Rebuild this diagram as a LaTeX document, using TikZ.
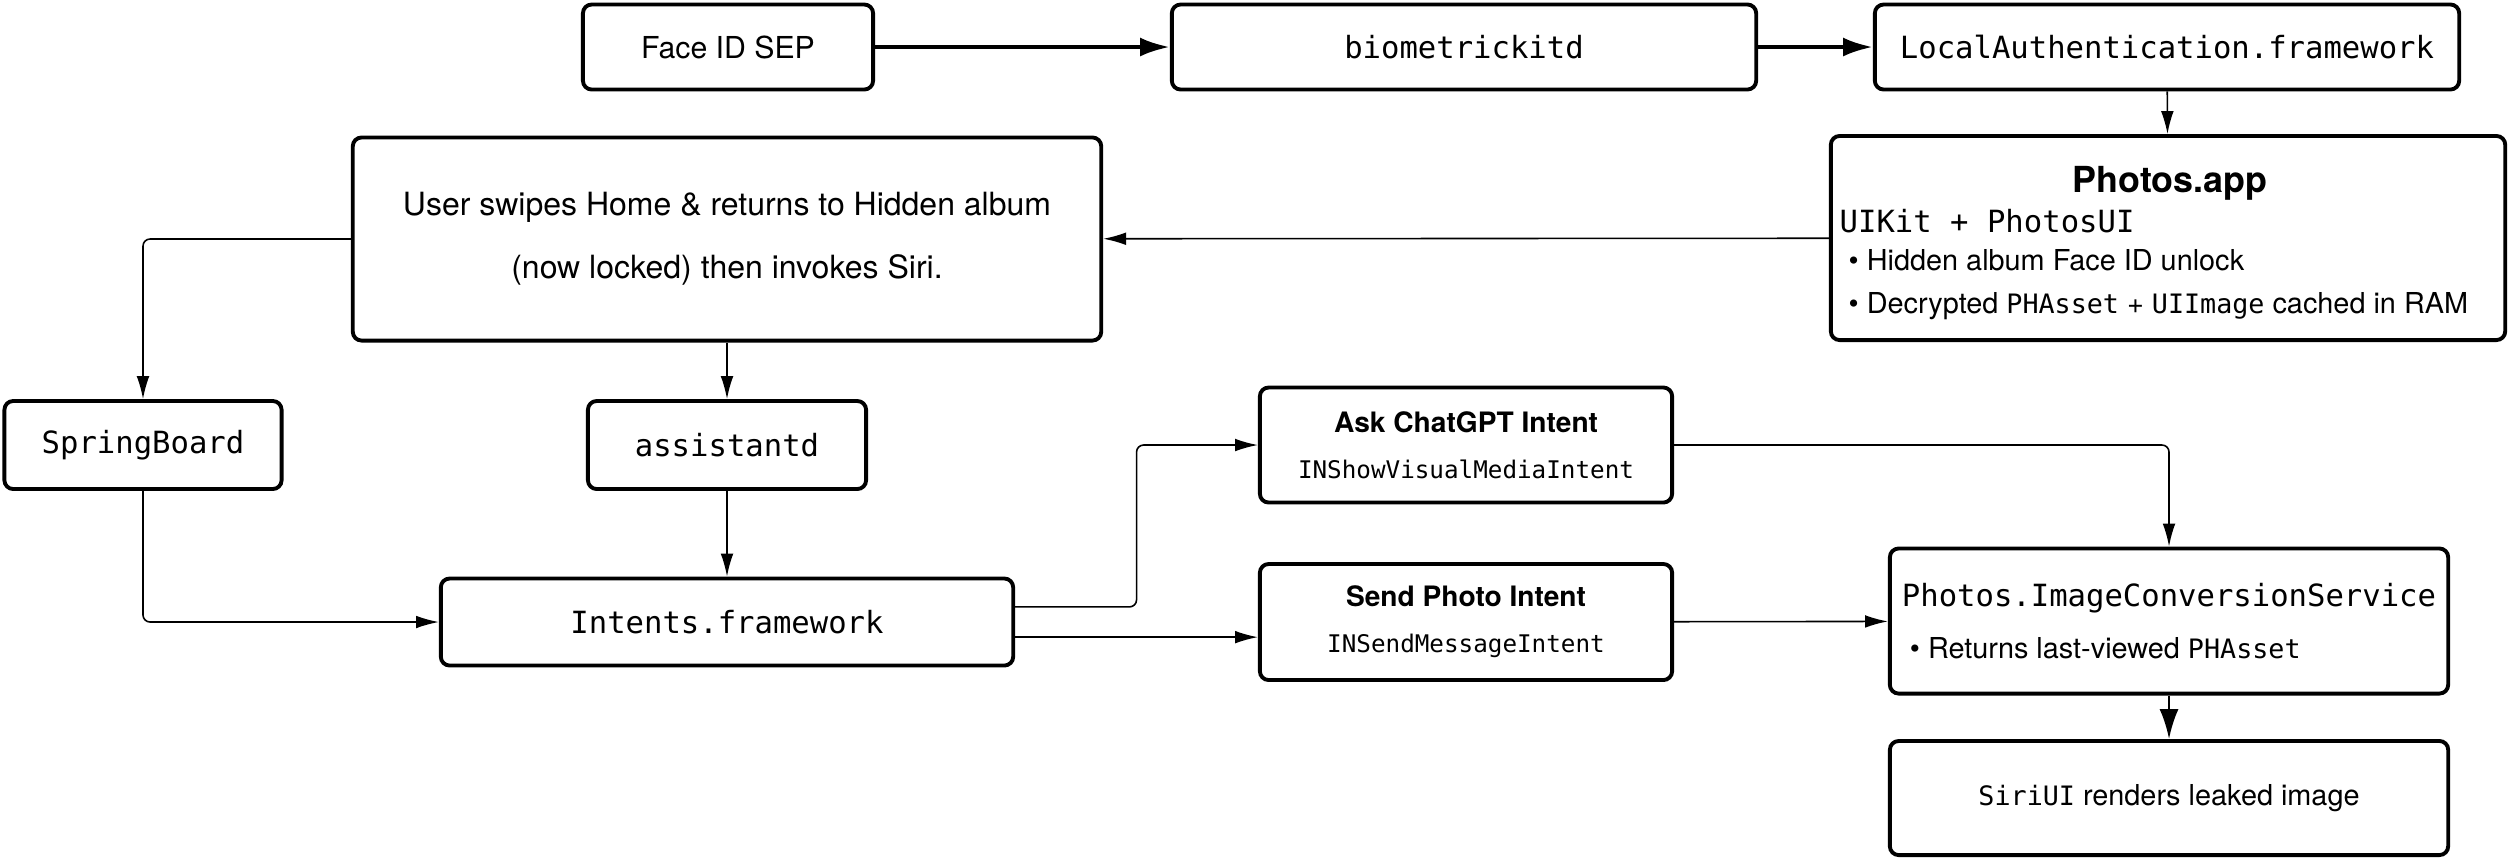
\documentclass[tikz,border=0pt]{standalone}
\usepackage{fontspec}
\setmainfont{TeX Gyre Heros}
\setmonofont{DejaVu Sans Mono}
\usetikzlibrary{arrows.meta,calc}

\newcommand{\smallcode}[1]{{\fontsize{7.6}{9}\selectfont\ttfamily #1}}

\begin{document}
\begin{tikzpicture}[x=0.01cm, y=-0.01cm,
  box/.style={draw, line width=1.1pt, rounded corners=2.5pt, inner sep=0pt, align=center},
  txt/.style={font=\fontsize{8.6}{10}\selectfont},
  code/.style={font=\fontsize{8.7}{10}\selectfont\ttfamily},
  flow/.style={line width=0.45pt, rounded corners=2pt, -{Latex[length=6.5pt,width=3.6pt]}},
  bigflow/.style={line width=1.15pt, -{Latex[length=8.5pt,width=5.4pt]}}]

\useasboundingbox (0,0) rectangle (2510,859);

\node [box, txt, minimum width=2.90cm, minimum height=0.85cm] (sep) at (728,47) {Face ID SEP};
\node [box, code, minimum width=5.84cm, minimum height=0.85cm] (bkd) at (1464,47) {biometrickitd};
\node [box, code, minimum width=5.84cm, minimum height=0.85cm] (la) at (2167,47) {LocalAuthentication.framework};

\node [box, minimum width=6.74cm, minimum height=2.04cm] (photos) at (2168,238) {};
\node [anchor=base, inner sep=0pt, font=\bfseries\fontsize{10.2}{12}\selectfont] (phtitle) at (2170,192) {Photos.app};
\node [anchor=base west, inner sep=0pt, code] (phkit) at (1839,232) {UIKit + PhotosUI};
\node [anchor=base west, inner sep=0pt, font=\fontsize{8.2}{10}\selectfont] (phunlock) at (1848,270) {\textbullet\ Hidden album Face ID unlock};
\node [anchor=base west, inner sep=0pt, font=\fontsize{8.2}{10}\selectfont] (phcache) at (1848,313) {\textbullet\ Decrypted \smallcode{PHAsset} + \smallcode{UIImage} cached in RAM};

\node [box, font=\fontsize{9.1}{18}\selectfont, minimum width=7.48cm, minimum height=2.03cm] (user) at (727,239)
  {User swipes Home \& returns to Hidden album\\(now locked) then invokes Siri.};

\node [box, code, minimum width=2.77cm, minimum height=0.88cm] (sb) at (143,445) {SpringBoard};
\node [box, code, minimum width=2.78cm, minimum height=0.88cm] (asd) at (727,445) {assistantd};
\node [box, code, minimum width=5.72cm, minimum height=0.87cm] (intents) at (727,622) {Intents.framework};

\node [box, font=\fontsize{8}{13.1}\selectfont, minimum width=4.12cm, minimum height=1.15cm] (ask) at (1466,445)
  {\textbf{Ask ChatGPT Intent}\\{\fontsize{6.9}{13.1}\selectfont\ttfamily INShowVisualMediaIntent}};
\node [box, font=\fontsize{8}{13.1}\selectfont, minimum width=4.12cm, minimum height=1.16cm] (send) at (1466,622)
  {\textbf{Send Photo Intent}\\{\fontsize{6.9}{13.1}\selectfont\ttfamily INSendMessageIntent}};

\node [box, align=left, font=\fontsize{8.2}{14.8}\selectfont, minimum width=5.58cm, minimum height=1.45cm] (pics) at (2169,621)
  {{\fontsize{8.7}{14.8}\selectfont\ttfamily Photos.ImageConversionService}\\\ \textbullet\ Returns last-viewed \smallcode{PHAsset}};
\node [box, font=\fontsize{8.2}{10}\selectfont, minimum width=5.58cm, minimum height=1.14cm] (siri) at (2169,798)
  {\smallcode{SiriUI} renders leaked image};

\draw [bigflow] (sep) -- (bkd);
\draw [bigflow] (bkd) -- (la);
\draw [flow] (la) -- (photos);
\draw [flow] (photos) -- (user);
\draw [flow] (user.west) -| (sb.north);
\draw [flow] (user) -- (asd);
\draw [flow] (asd) -- (intents);
\draw [flow] (sb.south) |- (intents.west);
\draw [flow] ([yshift=4.3pt]intents.east) -| ($(intents.east)!0.5!(ask.west)$) |- (ask.west);
\draw [flow] ([yshift=-4.3pt]intents.east) -- ([yshift=-4.3pt]send.west);
\draw [flow] (ask.east) -| (pics.north);
\draw [flow] (send) -- (pics);
\draw [bigflow, line width=0.8pt] (pics) -- (siri);

\end{tikzpicture}
\end{document}
